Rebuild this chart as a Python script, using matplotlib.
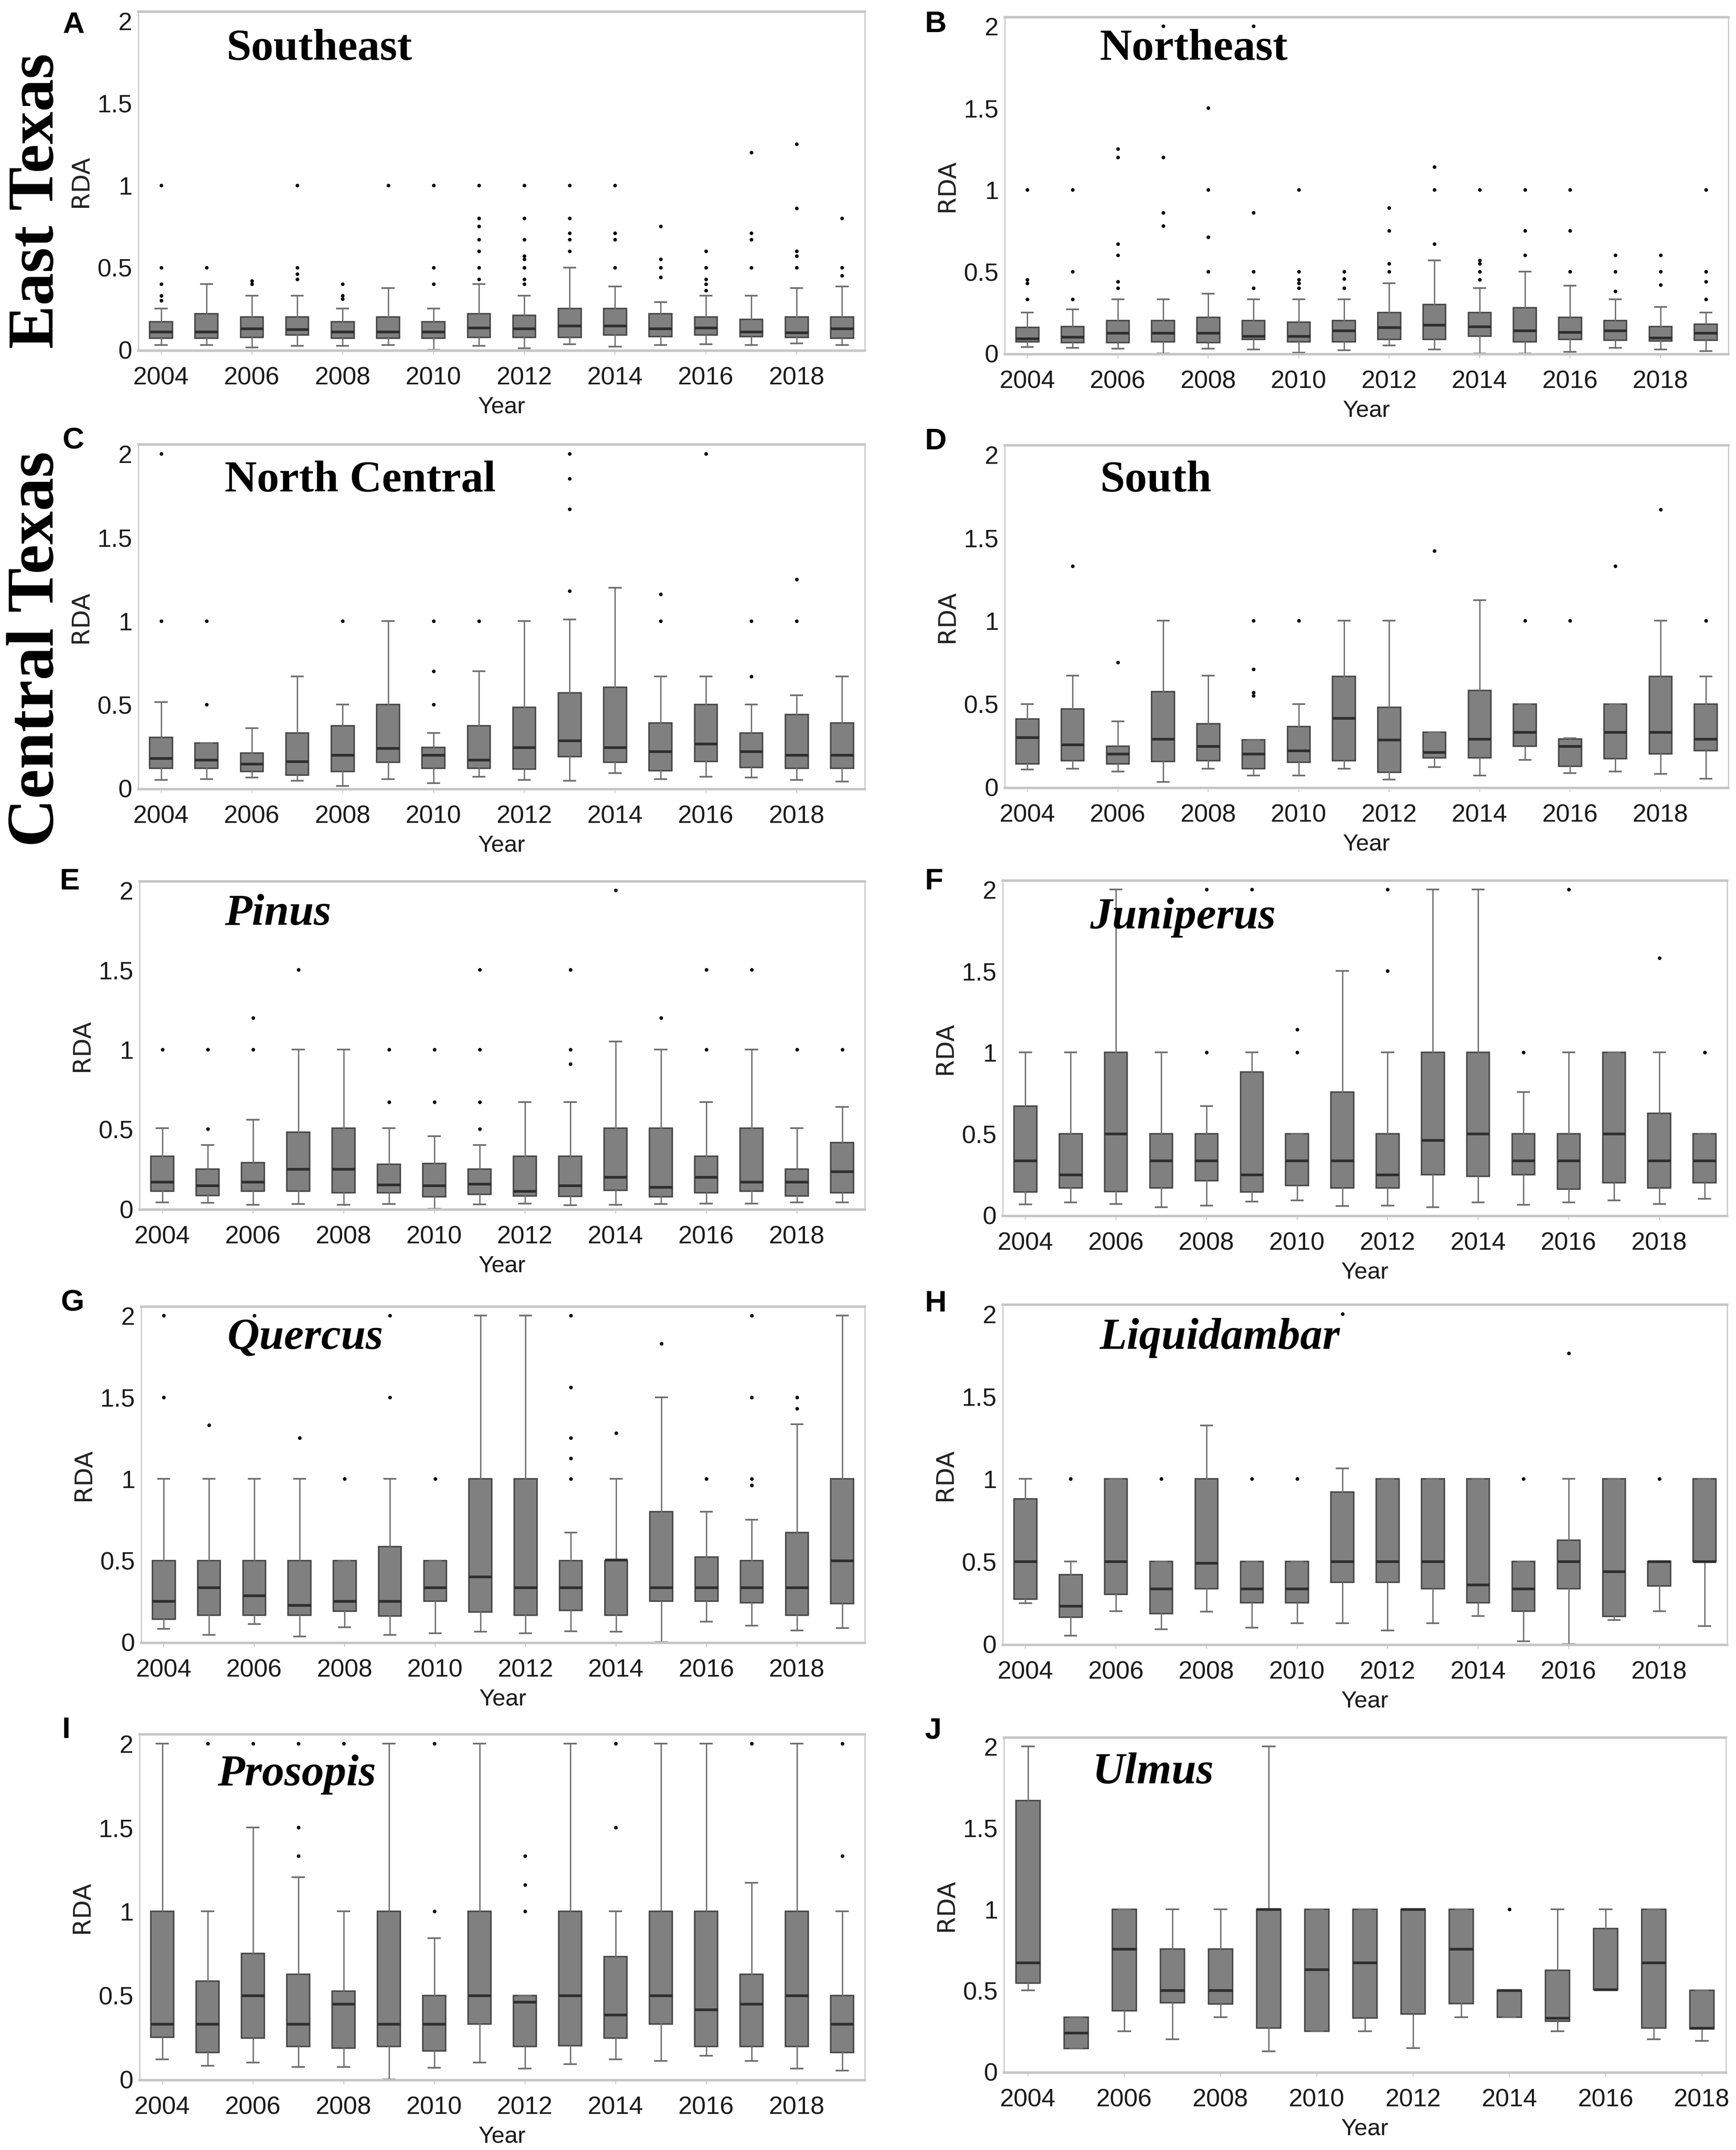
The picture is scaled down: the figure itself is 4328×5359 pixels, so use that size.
import matplotlib
matplotlib.use("Agg")
import matplotlib.pyplot as plt

YEARS = list(range(2004, 2020))
YEARS_J = list(range(2004, 2019))
TICK_YEARS = list(range(2004, 2020, 2))
Y_TICKS = [0, 0.5, 1, 1.5, 2]
Y_TICK_LABELS = ["0", "0.5", "1", "1.5", "2"]

# ---------------------------- values ---------------------------- #
# A - Southeast
A_hi = [.25, .40, .33, .33, .25, .375, .25, .40, .33, .50, .385, .29, .33, .33, .375, .385]
A_q3 = [.17, .22, .20, .20, .17, .20, .17, .22, .21, .25, .25, .22, .20, .185, .20, .20]
A_med = [.11, .11, .13, .125, .11, .11, .11, .135, .13, .145, .145, .13, .135, .11, .105, .13]
A_q1 = [.07, .07, .075, .09, .07, .07, .07, .075, .075, .075, .09, .08, .09, .08, .075, .07]
A_lo = [.03, .03, .015, .025, .025, .03, 0, .025, .01, .035, .02, .03, .035, .03, .04, .03]
A_out = [[1, .5, .4, .33, .3], [.5], [.42, .4], [1, .5, .46, .43], [.4, .33, .31], [1], [1, .5, .4],
         [1, .8, .75, .67, .6, .5, .43], [1, .8, .67, .57, .55, .5, .43, .4], [1, .8, .71, .67, .6],
         [1, .71, .67, .5], [.75, .55, .5, .44], [.6, .5, .43, .4, .36], [1.2, .71, .67, .5],
         [1.25, .86, .6, .57, .5], [.8, .5, .45]]

# B - Northeast
B_hi = [.25, .27, .33, .33, .365, .33, .33, .33, .43, .57, .40, .50, .415, .33, .285, .25]
B_q3 = [.16, .165, .20, .20, .22, .20, .19, .20, .25, .30, .25, .28, .22, .20, .165, .18]
B_med = [.09, .10, .125, .125, .125, .105, .105, .14, .16, .175, .165, .14, .13, .14, .095, .125]
B_q1 = [.07, .065, .065, .07, .065, .085, .07, .07, .085, .085, .105, .07, .085, .08, .075, .08]
B_lo = [.04, .035, .03, 0, .03, .025, .005, .02, .05, .025, 0, 0, .01, .035, .025, .015]
B_out = [[1, .45, .43, .33], [1, .5, .33], [1.25, 1.2, .67, .6, .44, .4], [2, 1.2, .86, .78],
         [1.5, 1, .71, .5], [2, .86, .5, .4], [1, .5, .45, .43, .4], [.5, .455, .4],
         [.89, .75, .55, .5], [1.14, 1, .67], [1, .57, .55, .5, .45], [1, .75, .6], [1, .75, .5],
         [.6, .5, .38], [.6, .5, .42], [1, .5, .44, .33]]

# C - North Central
C_hi = [.515, .27, .36, .67, .50, 1, .33, .70, 1, 1.01, 1.2, .67, .67, .50, .555, .67]
C_q3 = [.305, .27, .21, .33, .375, .50, .245, .375, .485, .57, .605, .39, .50, .33, .44, .39]
C_med = [.18, .17, .145, .16, .20, .24, .20, .17, .245, .285, .245, .22, .265, .22, .20, .20]
C_q1 = [.12, .12, .10, .08, .10, .155, .12, .12, .115, .19, .155, .105, .16, .125, .12, .12]
C_lo = [.05, .055, .065, .045, .015, .055, .03, .07, .05, .045, .09, .055, .07, .065, .05, .04]
C_out = [[2, 1], [1, .5], [], [], [1], [], [1, .7, .5], [1], [], [2, 1.85, 1.67, 1.18], [],
         [1.16, 1], [2], [1, .67], [1.25, 1], []]

# D - South
D_hi = [.50, .67, .395, 1, .67, .285, .50, 1, 1, .33, 1.125, .50, .295, .50, 1, .665]
D_q3 = [.41, .47, .245, .575, .38, .285, .365, .665, .48, .33, .58, .50, .29, .50, .665, .50]
D_med = [.30, .255, .20, .29, .245, .20, .22, .415, .285, .21, .29, .33, .245, .33, .33, .29]
D_q1 = [.14, .16, .14, .155, .16, .11, .15, .16, .09, .175, .175, .245, .125, .17, .20, .22]
D_lo = [.105, .11, .095, .03, .11, .07, .07, .11, .045, .12, .07, .165, .085, .095, .08, .05]
D_out = [[], [1.33], [.75], [], [], [1, .71, .57, .55], [1], [], [], [1.42], [], [1], [1], [1.33],
         [1.67], [1]]

# E - Pinus
E_hi = [.505, .40, .56, 1, 1, .505, .455, .40, .67, .67, 1.05, 1, .67, 1, .505, .64]
E_q3 = [.33, .25, .29, .48, .505, .28, .285, .25, .33, .33, .505, .505, .33, .505, .25, .415]
E_med = [.17, .145, .17, .25, .25, .15, .145, .155, .11, .145, .20, .135, .20, .17, .17, .235]
E_q1 = [.11, .083, .11, .11, .10, .10, .075, .09, .08, .077, .115, .075, .10, .11, .08, .10]
E_lo = [.04, .037, .025, .03, .025, .03, 0, .027, .033, .022, .025, .03, .033, .034, .04, .04]
E_out = [[1], [1, .5], [1.2, 1], [1.5], [], [1, .67], [1, .67], [1.5, 1, .67, .5], [],
         [1.5, 1, .91], [2], [1.2], [1.5, 1], [1.5], [1], [1]]

# F - Juniperus
F_hi = [1, 1, 2, 1, .67, 1, .50, 1.5, 1, 2, 2, .756, 1, 1, 1, .50]
F_q3 = [.67, .50, 1, .50, .50, .88, .50, .756, .50, 1, 1, .50, .50, 1, .625, .50]
F_med = [.335, .25, .50, .335, .335, .25, .335, .335, .25, .46, .50, .335, .335, .50, .335, .335]
F_q1 = [.143, .168, .146, .168, .213, .143, .183, .168, .168, .25, .238, .25, .16, .20, .168, .20]
F_lo = [.067, .078, .07, .05, .06, .083, .09, .056, .06, .05, .078, .063, .078, .09, .07, .10]
F_out = [[], [], [], [], [2, 1], [2], [1.14, 1], [], [2, 1.5], [], [], [1], [2], [], [1.58], [1]]

# G - Quercus
G_hi = [1, 1, 1, 1, .50, 1, .50, 2, 2, .67, 1, 1.5, .80, .75, 1.335, 2]
G_q3 = [.50, .50, .50, .50, .50, .585, .50, 1, 1, .50, .50, .80, .52, .50, .67, 1]
G_med = [.25, .335, .285, .225, .25, .25, .335, .40, .335, .335, .505, .335, .335, .335, .335, .50]
G_q1 = [.14, .165, .165, .165, .19, .16, .25, .185, .165, .195, .165, .25, .25, .24, .165, .235]
G_lo = [.08, .045, .11, .035, .09, .045, .055, .063, .055, .066, .063, 0, .125, .10, .07, .085]
G_out = [[2, 1.5], [1.33], [2], [1.25], [1], [2, 1.5], [1], [], [], [2, 1.56, 1.25, 1.125, 1],
         [1.28], [1.83], [1], [2, 1.5, 1, .96], [1.5, 1.43], []]

# H - Liquidambar
H_hi = [1, .50, 1, .50, 1.325, .50, .50, 1.065, 1, 1, 1, .50, 1, 1, .50, 1]
H_q3 = [.88, .42, 1, .50, 1, .50, .50, .92, 1, 1, 1, .50, .63, 1, .50, 1]
H_med = [.50, .23, .50, .335, .49, .335, .335, .50, .50, .50, .36, .335, .50, .44, .50, .50]
H_q1 = [.273, .163, .30, .185, .335, .25, .25, .375, .375, .335, .25, .20, .335, .167, .352, .50]
H_lo = [.247, .05, .20, .09, .197, .10, .125, .125, .083, .125, .17, .016, 0, .145, .20, .11]
H_out = [[], [1], [], [1], [], [1], [1], [2], [], [], [], [1], [1.76], [], [1], []]

# I - Prosopis
I_hi = [2, 1, 1.5, 1.205, 1, 2, .84, 2, .50, 2, 1, 2, 2, 1.17, 2, 1]
I_q3 = [1, .585, .75, .625, .525, 1, .50, 1, .50, 1, .73, 1, 1, .625, 1, .50]
I_med = [.33, .33, .50, .33, .45, .33, .33, .50, .46, .50, .385, .50, .415, .45, .50, .33]
I_q1 = [.25, .16, .245, .196, .186, .196, .17, .33, .196, .20, .245, .33, .196, .196, .196, .16]
I_lo = [.12, .08, .10, .075, .075, 0, .07, .10, .065, .09, .12, .11, .14, .11, .065, .052]
I_out = [[], [2], [2], [2, 1.5, 1.33], [2], [], [2, 1], [], [1.33, 1.16, 1], [], [2, 1.5], [], [],
         [2], [], [2, 1.33]]

# J - Ulmus (no 2019 box)
J_hi = [2, .335, 1, 1, 1, 2, 1, 1, 1, 1, .50, 1, 1, 1, .50]
J_q3 = [1.667, .335, 1, .755, .755, 1, 1, 1, 1, 1, .50, .625, .88, 1, .50]
J_med = [.67, .24, .755, .50, .50, 1, .63, .67, 1, .755, .50, .33, .505, .67, .27]
J_q1 = [.545, .143, .375, .425, .417, .27, .25, .33, .355, .42, .335, .31, .505, .27, .265]
J_lo = [.50, .143, .25, .20, .335, .125, .25, .25, .145, .335, .335, .25, .505, .20, .19]
J_out = [[], [], [], [], [], [], [], [], [], [], [1], [], [], [], []]

PANEL_LETTERS = ["A", "B", "C", "D", "E", "F", "G", "H", "I", "J"]
PANEL_TITLES = ["Southeast", "Northeast", "North Central", "South", "Pinus", "Juniperus",
                "Quercus", "Liquidambar", "Prosopis", "Ulmus"]

# ------------------------------ layout, in output pixels ----------------------------- #
W, H = 4328, 5359
# left, top, right, bottom of each axes
AXES_PX = [(345, 29, 2156, 874), (2505, 43, 4309, 883),
           (345, 1108, 2156, 1967), (2505, 1110, 4309, 1964),
           (348, 2197, 2156, 3015), (2500, 2195, 4306, 3031),
           (352, 3257, 2156, 4095), (2500, 3252, 4306, 4100),
           (348, 4323, 2156, 5185), (2503, 4331, 4303, 5166)]
TITLE_PX = [(564, 149), (2742, 149), (560, 1225), (2742, 1225), (560, 2305),
            (2717, 2314), (567, 3362), (2742, 3362), (542, 4450), (2724, 4445)]
LETTER_PX = [(156, 82), (2306, 80), (156, 1118), (2306, 1120), (149, 2217),
             (2306, 2217), (152, 3267), (2306, 3269), (155, 4332), (2306, 4334)]

BOX_GREY = "#808080"
EDGE_GREY = "#454545"
FRAME_GREY = "#c6c6c6"
TEXT_COL = "#1a1a1a"


def make_stats(hi, q3, med, q1, lo, out):
    return [{"whishi": h, "q3": a, "med": m, "q1": b, "whislo": l, "fliers": f}
            for h, a, m, b, l, f in zip(hi, q3, med, q1, lo, out)]


all_stats = [
    make_stats(A_hi, A_q3, A_med, A_q1, A_lo, A_out),
    make_stats(B_hi, B_q3, B_med, B_q1, B_lo, B_out),
    make_stats(C_hi, C_q3, C_med, C_q1, C_lo, C_out),
    make_stats(D_hi, D_q3, D_med, D_q1, D_lo, D_out),
    make_stats(E_hi, E_q3, E_med, E_q1, E_lo, E_out),
    make_stats(F_hi, F_q3, F_med, F_q1, F_lo, F_out),
    make_stats(G_hi, G_q3, G_med, G_q1, G_lo, G_out),
    make_stats(H_hi, H_q3, H_med, H_q1, H_lo, H_out),
    make_stats(I_hi, I_q3, I_med, I_q1, I_lo, I_out),
    make_stats(J_hi, J_q3, J_med, J_q1, J_lo, J_out),
]

fig = plt.figure(figsize=(W / 100, H / 100), dpi=100, facecolor="white")

for i, stats in enumerate(all_stats):
    l, t, r, b = AXES_PX[i]
    ax = fig.add_axes([l / W, 1 - b / H, (r - l) / W, (b - t) / H])
    years = YEARS_J if i == 9 else YEARS

    ax.bxp(stats, positions=years, widths=0.5, capwidths=0.25, patch_artist=True, manage_ticks=False,
           boxprops=dict(facecolor=BOX_GREY, edgecolor=EDGE_GREY, linewidth=2.6),
           medianprops=dict(color="#2e2e2e", linewidth=4.8, solid_capstyle="butt"),
           whiskerprops=dict(color="#6e6e6e", linewidth=2.4),
           capprops=dict(color="#6e6e6e", linewidth=3),
           flierprops=dict(marker="o", markersize=5.5, markerfacecolor="black",
                           markeredgecolor="black", linestyle="none"))

    ax.set_xlim(2003.5, 2018.5 if i == 9 else 2019.5)
    ax.set_ylim(-0.005, 2.055)
    ax.set_xticks([y for y in TICK_YEARS if y in years])
    ax.set_yticks(Y_TICKS)
    ax.set_yticklabels(Y_TICK_LABELS)
    ax.tick_params(axis="x", length=7, width=1.5, color=FRAME_GREY, pad=21, labelcolor=TEXT_COL)
    ax.tick_params(axis="y", length=0, pad=11, labelcolor=TEXT_COL)
    for lab in ax.get_xticklabels() + ax.get_yticklabels():
        lab.set_fontfamily("Liberation Sans")
        lab.set_fontsize(45)

    ax.set_xlabel("Year", family="Liberation Sans", fontsize=42, color=TEXT_COL, labelpad=11)
    ax.set_ylabel("RDA", family="DejaVu Sans", fontsize=44, color="#222222", labelpad=8)

    # frame: heavier along top and bottom than on the sides
    for side, width in zip(["top", "bottom", "left", "right"], [4.5, 4.5, 2, 2]):
        ax.spines[side].set_color(FRAME_GREY)
        ax.spines[side].set_linewidth(width)

    x, y = TITLE_PX[i]
    fig.text(x / W, 1 - y / H, PANEL_TITLES[i], family="Liberation Serif", weight="bold",
             style="italic" if i >= 4 else "normal", fontsize=80, color="black", va="baseline")
    x, y = LETTER_PX[i]
    fig.text(x / W, 1 - y / H, PANEL_LETTERS[i], family="Liberation Sans", weight="bold",
             fontsize=54, color="black", va="baseline")

# big region labels down the left side
fig.text(93 / W, 1 - 869 / H, "East Texas", family="Liberation Serif", weight="bold", fontsize=117,
         rotation=90, ha="center", va="bottom", color="black")
fig.text(92 / W, 1 - 2111 / H, "Central Texas", family="Liberation Serif", weight="bold", fontsize=120,
         rotation=90, ha="center", va="bottom", color="black")

fig.savefig("out.png", dpi=100, facecolor="white")
